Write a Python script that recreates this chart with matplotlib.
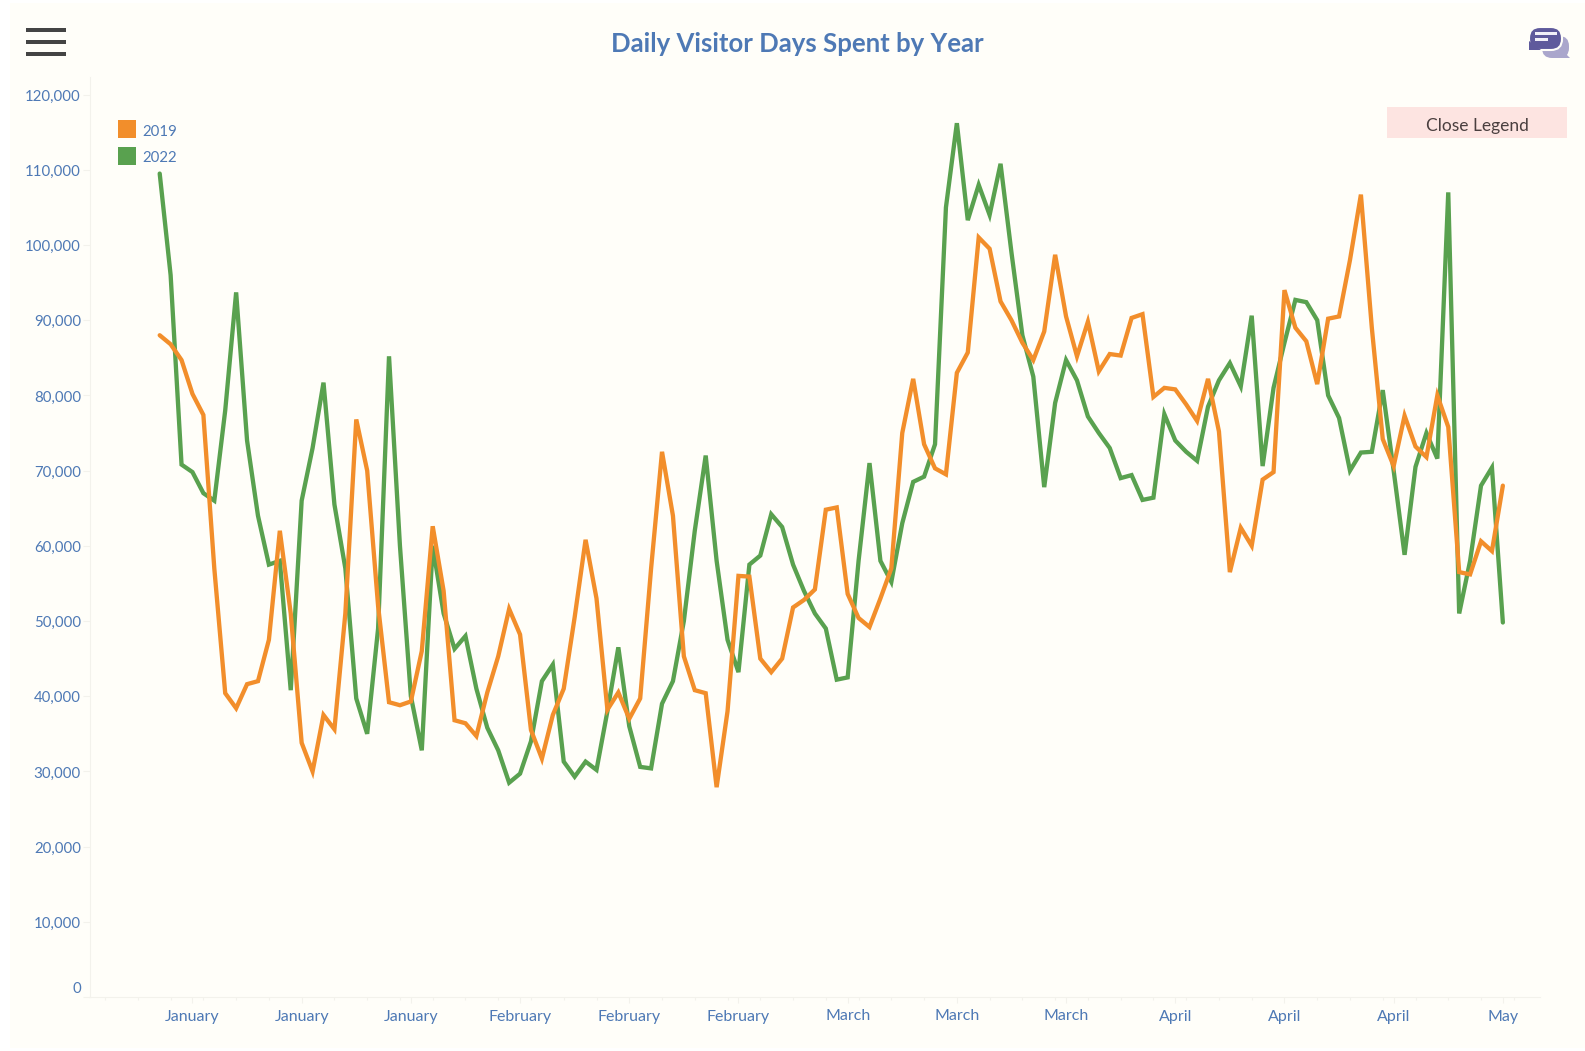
import matplotlib
matplotlib.use("Agg")
import matplotlib.pyplot as plt
from matplotlib.patches import Rectangle, FancyBboxPatch, Polygon
from matplotlib.ticker import FuncFormatter
from matplotlib.transforms import ScaledTranslation

plt.rcParams["font.family"] = ["Lato", "DejaVu Sans"]

# Values (one point per day step, in visitor days)
years = ["2019", "2022"]
colors = ["#f28e2b", "#59a14f"]

values_2019 = [88000, 86800, 84700, 80200, 77400, 57000, 40400, 38400, 41600, 42000,
               47500, 62000, 51000, 33800, 30000, 37500, 35600, 51000, 76800, 70000,
               52000, 39200, 38800, 39300, 46000, 62600, 54000, 36800, 36400, 34700,
               40500, 45300, 51600, 48200, 35500, 31700, 37500, 41000, 50500, 60800,
               53000, 38200, 40500, 37000, 39700, 57000, 72500, 64000, 45300, 40800,
               40400, 27900, 38000, 56000, 55900, 45000, 43200, 45000, 51800, 52800,
               54200, 64800, 65100, 53600, 50400, 49200, 53000, 57000, 75000, 82200,
               73500, 70300, 69500, 83000, 85700, 101000, 99500, 92500, 90000, 87000,
               84700, 88500, 98700, 90500, 85200, 89800, 83200, 85500, 85300, 90300,
               90800, 79800, 81000, 80800, 78800, 76600, 82200, 75200, 56500, 62400,
               60000, 68800, 69800, 94000, 89000, 87200, 81500, 90200, 90500, 98000,
               106700, 89000, 74200, 70600, 77300, 73200, 71800, 80000, 75800, 56500,
               56200, 60600, 59300, 68000]

values_2022 = [109500, 96000, 70800, 69800, 67000, 66000, 78000, 93700, 74000, 64000,
               57500, 58000, 40800, 66000, 73000, 81700, 65500, 57000, 39700, 35000,
               49000, 85200, 60000, 40000, 32800, 60000, 51000, 46300, 48000, 41000,
               35800, 32800, 28500, 29700, 34000, 42000, 44200, 31300, 29300, 31300,
               30200, 38000, 46500, 36000, 30600, 30400, 39000, 42000, 50000, 62000,
               72000, 58000, 47500, 43200, 57500, 58700, 64200, 62500, 57500, 54000,
               51000, 49000, 42200, 42500, 58000, 71000, 58000, 55200, 63000, 68500,
               69200, 73500, 105000, 116200, 103300, 108000, 104000, 110800, 99000, 88000,
               82500, 67800, 79000, 84700, 82000, 77200, 75000, 73000, 69000, 69400,
               66100, 66400, 77500, 74000, 72500, 71300, 78500, 82000, 84300, 81200,
               90600, 70600, 81000, 87000, 92700, 92400, 90000, 80000, 77000, 70000,
               72400, 72500, 80700, 70000, 58800, 70500, 75000, 71600, 107000, 51000,
               58000, 68000, 70400, 49800]

month_labels = ["January", "January", "January", "February", "February", "February",
                "March", "March", "March", "April", "April", "April", "May"]
month_positions = [3, 13, 23, 33, 43, 53, 63, 73, 83, 93, 103, 113, 123]
y_ticks = list(range(0, 130000, 10000))

W, H = 1585, 1051
BG = "#fffef9"
TEXT = "#4e79b5"
AXIS = "#f3f2ec"


def px(x, y, w=0, h=0):
    # pixel box from top left -> figure fraction box
    return x / W, 1 - (y + h) / H, w / W, h / H


def box(x, y, w, h, color, zorder=1):
    left, bottom, width, height = px(x, y, w, h)
    fig.add_artist(Rectangle((left, bottom), width, height, transform=fig.transFigure,
                             facecolor=color, edgecolor="none", zorder=zorder))


fig = plt.figure(figsize=(W / 100, H / 100), dpi=100, facecolor="white")
box(10, 3, 1575, 1045, BG, zorder=-1)

ax = fig.add_axes(px(90, 77, 1450, 920))
ax.patch.set_alpha(0)

days = range(len(values_2019))
ax.plot(days, values_2019, color=colors[0], lw=3.1, solid_joinstyle="miter",
        solid_capstyle="round", zorder=3)
ax.plot(days, values_2022, color=colors[1], lw=3.1, solid_joinstyle="miter",
        solid_capstyle="round", zorder=2)

# x: first point at 160 px, 10.92 px a day; y: 0 at 997 px, 75.2 px per 10,000
ax.set_xlim((90 - 159.7) / 10.92, (1540 - 159.7) / 10.92)
ax.set_ylim(0, 920 / 75.2 * 10000)

ax.set_yticks(y_ticks)
ax.yaxis.set_major_formatter(FuncFormatter(lambda v, _: f"{int(v):,}"))
ax.set_xticks(month_positions)
ax.set_xticklabels(month_labels)
ax.set_xticks(list(range(-5, 127, 3)), minor=True)

for s in ("top", "right"):
    ax.spines[s].set_visible(False)
for s in ("left", "bottom"):
    ax.spines[s].set_color(AXIS)
    ax.spines[s].set_linewidth(0.8)
ax.tick_params(axis="y", length=5, width=0.8, color=AXIS, labelcolor=TEXT,
               labelsize=10.8, pad=1.5)
ax.tick_params(axis="x", which="major", length=4, width=0.8, color=AXIS,
               labelcolor=TEXT, labelsize=11.5, pad=5)
ax.tick_params(axis="x", which="minor", length=2, width=0.8, color=AXIS)

# y labels sit 2 px under their ticks, the zero label well above its tick
shift_down = ScaledTranslation(0, -2 / 100, fig.dpi_scale_trans)
shift_up = ScaledTranslation(0, 1 / 100, fig.dpi_scale_trans)
for i, lab in enumerate(ax.get_yticklabels()):
    if i == 0:
        lab.set_verticalalignment("bottom")
        lab.set_transform(lab.get_transform() + shift_up)
    else:
        lab.set_verticalalignment("center")
        lab.set_transform(lab.get_transform() + shift_down)

fig.text(797 / W, 1 - 44 / H, "Daily Visitor Days Spent by Year", ha="center", va="center",
         color=TEXT, fontsize=18.5, fontweight="bold")

# legend
for i, (year, c) in enumerate(zip(years, colors)):
    y = 120 + i * 26.5
    box(118, y, 18, 18, c)
    fig.text(142 / W, 1 - (y + 12) / H, year, color=TEXT, fontsize=10.8, va="center")

# close legend button
box(1387, 107, 180, 31, "#fde4e1")
fig.text(1477 / W, 1 - 126 / H, "Close Legend", color="#4a3f3f", fontsize=12.5,
         ha="center", va="center")

# hamburger icon
for y in (28, 40, 52):
    box(26, y, 40, 4, "#444444")

# chat icon (drawn in pixel space on an overlay axes)
ov = fig.add_axes([0, 0, 1, 1], zorder=5)
ov.set_xlim(0, W)
ov.set_ylim(H, 0)
ov.axis("off")
ov.add_patch(FancyBboxPatch((1542, 36), 27, 22, boxstyle="round,pad=0,rounding_size=10",
                            facecolor="#aaa6cc", edgecolor="none"))
ov.add_patch(Polygon([(1560, 48), (1570, 58), (1552, 58)], facecolor="#aaa6cc",
                     edgecolor="none"))
ov.add_patch(FancyBboxPatch((1529, 27), 33, 23, boxstyle="round,pad=0,rounding_size=11",
                            facecolor="#5f5a9c", edgecolor=BG, linewidth=1.5))
ov.add_patch(Polygon([(1529, 41), (1541, 50), (1529, 50)], facecolor="#5f5a9c", edgecolor="none"))
ov.add_patch(Rectangle((1535, 32), 22, 3, facecolor="#f2f0f8", edgecolor="none"))
ov.add_patch(Rectangle((1535, 38), 13, 3, facecolor="#f2f0f8", edgecolor="none"))

fig.savefig("out.png", dpi=100, facecolor="white")
